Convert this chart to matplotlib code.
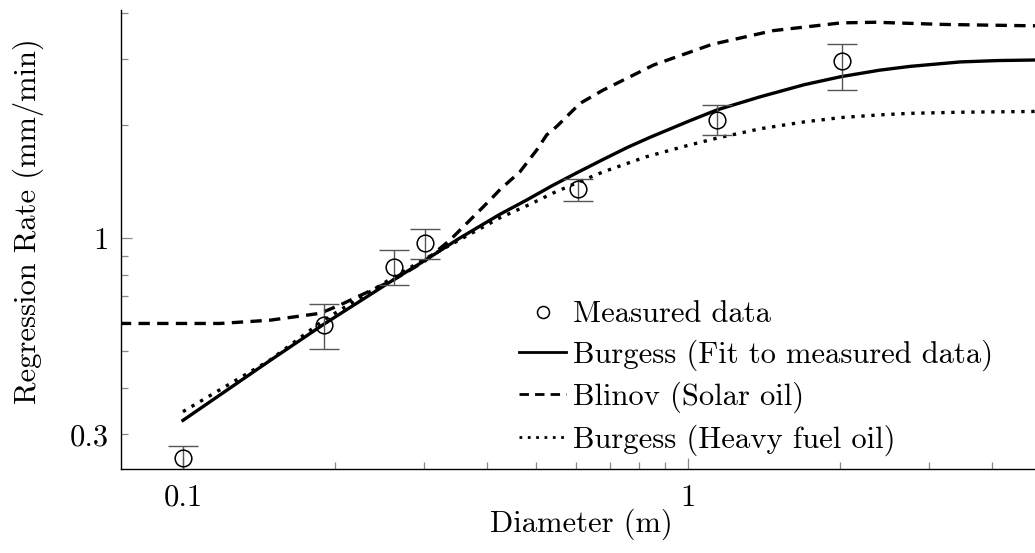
import numpy as np
import matplotlib
matplotlib.use("Agg")
import matplotlib.pyplot as plt

plt.rcParams['font.family'] = 'serif'
plt.rcParams['font.serif'] = ['cmr10']
plt.rcParams['mathtext.fontset'] = 'cm'
plt.rcParams['axes.unicode_minus'] = False
plt.rcParams['font.size'] = 22

# measured data (diameter in m, regression rate in mm/min)
meas_d = [0.1, 0.19, 0.262, 0.302, 0.605, 1.14, 2.02]
meas_r = [0.260, 0.587, 0.840, 0.970, 1.35, 2.075, 2.98]
meas_err_lo = [0.02, 0.08, 0.09, 0.09, 0.09, 0.19, 0.49]
meas_err_hi = [0.02, 0.08, 0.09, 0.09, 0.09, 0.19, 0.31]

# Burgess, fit to measured data
fit_d = [0.1, 0.149, 0.19, 0.261, 0.30, 0.3525, 0.4246, 0.479, 0.54, 0.605, 0.68,
         0.76, 0.841, 1.0, 1.14, 1.389, 1.7, 2.01, 2.4, 2.75, 3.46, 4.1, 4.86, 5.0]
fit_r = [0.327, 0.473, 0.59, 0.775, 0.870, 1.0, 1.16, 1.265, 1.385, 1.50, 1.625,
         1.75, 1.86, 2.05, 2.20, 2.385, 2.57, 2.70, 2.81, 2.875, 2.955, 2.98, 2.99, 2.99]

# Blinov, solar oil
blinov_d = [0.075, 0.1184, 0.1487, 0.1868, 0.2046, 0.2606, 0.30, 0.338, 0.4055, 0.4246,
            0.4648, 0.5017, 0.525, 0.549, 0.611, 0.677, 0.855, 1.114, 1.472, 2.01,
            2.35, 3.21, 4.73, 5.0]
blinov_r = [0.593, 0.593, 0.605, 0.631, 0.664, 0.774, 0.866, 0.99, 1.265, 1.35,
            1.505, 1.72, 1.887, 1.985, 2.29, 2.48, 2.90, 3.29, 3.58, 3.756,
            3.77, 3.72, 3.69, 3.69]

# Burgess, heavy fuel oil
hfo_d = [0.1, 0.1487, 0.19, 0.26, 0.30, 0.3525, 0.4246, 0.488, 0.54, 0.605, 0.68,
         0.826, 1.0, 1.14, 1.389, 1.7, 2.01, 2.4, 2.75, 3.46, 4.86, 5.0]
hfo_r = [0.345, 0.4735, 0.605, 0.785, 0.878, 0.99, 1.135, 1.235, 1.32, 1.41, 1.505,
         1.65, 1.77, 1.85, 1.96, 2.045, 2.10, 2.135, 2.155, 2.17, 2.18, 2.18]

x_major = [0.1, 1]
x_major_labels = ['0.1', '1']
x_minor = [0.2, 0.3, 0.4, 0.5, 0.6, 0.7, 0.8, 0.9, 2, 3, 4]
y_major = [1]
y_major_labels = ['1']
y_minor = [0.3, 0.4, 0.5, 0.6, 0.7, 0.8, 0.9, 2, 3, 4]
y_minor_labels = ['0.3', '', '', '', '', '', '', '', '', '']

W, H = 1035, 553
fig = plt.figure(figsize=(W / 100, H / 100), dpi=100)
ax = fig.add_axes([121 / W, (H - 469) / H, (1041 - 121) / W, (469 - 10) / H])
ax.set_xscale('log')
ax.set_yscale('log')

ax.errorbar(meas_d, meas_r, yerr=[meas_err_lo, meas_err_hi], fmt='none',
            ecolor='#555555', elinewidth=1.0, capsize=11, capthick=1.0, zorder=3)
ax.plot(meas_d, meas_r, 'o', mfc='none', mec='black', mew=1.1, ms=12,
        label='Measured data', zorder=4)
ax.plot(fit_d, fit_r, '-', color='black', lw=2.4, label='Burgess (Fit to measured data)')
ax.plot(blinov_d, blinov_r, color='black', lw=2.4, dashes=(3.4, 2.2),
        label='Blinov (Solar oil)')
ax.plot(hfo_d, hfo_r, color='black', lw=2.4, dashes=(1.0, 2.0), dash_capstyle='butt',
        label='Burgess (Heavy fuel oil)')

ax.set_xlim(0.0754, 5.0)
ax.set_ylim(0.2426, 4.065)

ax.set_xticks(x_major, x_major_labels)
ax.set_xticks(x_minor, [''] * len(x_minor), minor=True)
ax.set_yticks(y_major, y_major_labels)
ax.set_yticks(y_minor, y_minor_labels, minor=True)
ax.tick_params(which='both', direction='in', color='#888888', width=0.9)
ax.tick_params(which='major', length=8)
ax.tick_params(which='minor', length=5)
ax.tick_params(axis='y', which='both', pad=9)
ax.tick_params(axis='x', which='both', pad=11)

for side in ['top', 'right']:
    ax.spines[side].set_visible(False)
for side in ['left', 'bottom']:
    ax.spines[side].set_linewidth(1.0)

ax.set_xlabel('Diameter (m)', labelpad=-2)
fig.text(28 / W, 1 - 221 / H, 'Regression Rate (mm/min)', rotation=90,
         ha='center', va='center', fontsize=22)

leg = ax.legend(loc='upper left', bbox_to_anchor=(519 / W, 1 - 301 / H),
                bbox_transform=fig.transFigure, frameon=False, borderpad=0,
                borderaxespad=0, handlelength=1.55, handletextpad=0.22,
                labelspacing=0.36, markerscale=0.72, fontsize=22)
for line in leg.get_lines():
    line.set_linewidth(2.0)

fig.savefig('out.png', dpi=100)
